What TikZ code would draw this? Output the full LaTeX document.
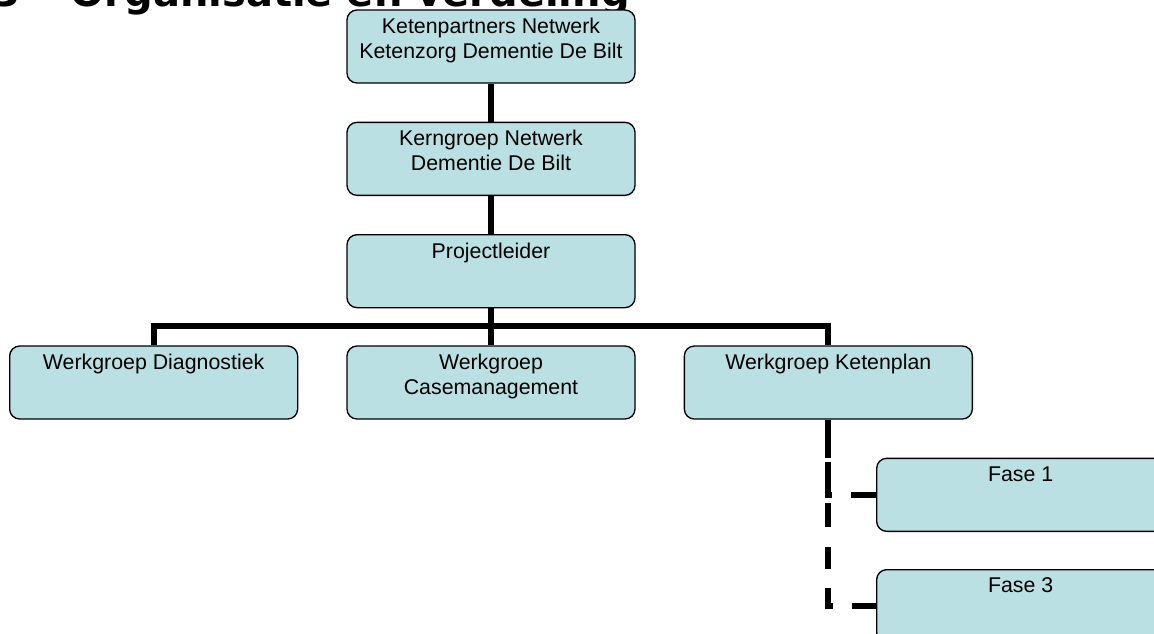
\documentclass[tikz,border=0pt]{standalone}
\usepackage{fontspec}
\setmainfont{Liberation Sans}
\newfontfamily\headfont{DejaVu Sans}
\usepackage{xcolor}
\usepackage{tikz}
\usetikzlibrary{positioning}
\definecolor{PaleTeal}{HTML}{BBE0E3}

\begin{document}
\begin{tikzpicture}[
  node distance=28.5pt and 36pt,
  box/.style={draw, line width=1pt, rounded corners=7.5pt, fill=PaleTeal,
              minimum width=216pt, minimum height=54.75pt, inner sep=6pt,
              font=\fontsize{16}{18.75}\selectfont,
              execute at begin node={\begin{minipage}[t][42.75pt][t]{204pt}\centering},
              execute at end node={\end{minipage}}},
  link/.style={line width=4.5pt},
  phaseA/.style={link, dash pattern=on 28.5pt off 3pt on 27.75pt off 14.25pt on 30pt},
  phaseB/.style={link, dash pattern=on 28.5pt off 3pt on 26.25pt off 4.5pt on 18pt off 15pt
                 on 16.5pt off 14.25pt on 17.25pt off 14.25pt on 30pt}
]
  \useasboundingbox (0,0) rectangle (865.5pt,-474.75pt);
  \clip (0,0) rectangle (865.5pt,-474.75pt);

  % heading, only its lower edge is on the page
  \node[anchor=base west, inner sep=0pt, font=\headfont\bfseries\fontsize{30}{36}\selectfont]
    (title) at (-6pt,-4.5pt) {3\hspace{38pt}Organisatie en verdeling};

  \node[box] (keten) at (368.25pt,-34.875pt) {Ketenpartners Netwerk\\Ketenzorg Dementie De Bilt};
  \node[box, below=of keten] (kern) {Kerngroep Netwerk\\Dementie De Bilt};
  \node[box, below=of kern] (leider) {Projectleider};
  \node[box, below=27.75pt of leider] (casem) {Werkgroep\\Casemanagement};
  \node[box, left=of casem] (diagn) {Werkgroep Diagnostiek};
  \node[box, right=of casem] (ketenplan) {Werkgroep Ketenplan};
  \node[box, below right=28.5pt and -72.75pt of ketenplan] (fase1) {Fase 1};
  \node[box, below=27.75pt of fase1] (fase3) {Fase 3};

  % hierarchy lines
  \draw[link] (keten) -- (kern);
  \draw[link] (kern) -- (leider);
  \coordinate[below=13.5pt of leider] (bar);
  \draw[link] (leider) -- (casem);
  \draw[link] (diagn.north) |- (bar) -| (ketenplan.north);

  % phases of the Ketenplan group
  \draw[phaseB] (ketenplan.south) |- (fase3.west);
  \draw[phaseA] (ketenplan.south) |- (fase1.west);
\end{tikzpicture}
\end{document}
